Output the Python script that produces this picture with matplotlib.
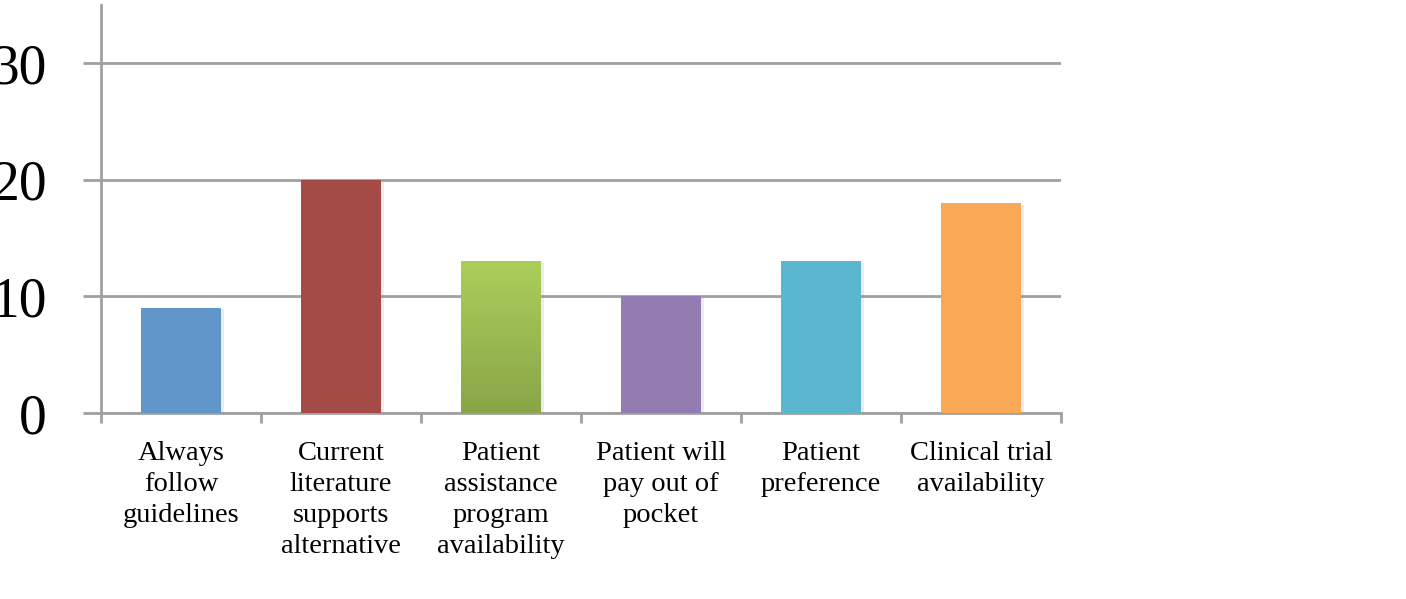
import numpy as np
import matplotlib
matplotlib.use("Agg")
import matplotlib.pyplot as plt
import matplotlib.patheffects as pe

# reasons for deviating from guidelines
categories = ["Always\nfollow\nguidelines",
              "Current\nliterature\nsupports\nalternative",
              "Patient\nassistance\nprogram\navailability",
              "Patient will\npay out of\npocket",
              "Patient\npreference",
              "Clinical trial\navailability"]
counts = [9, 20, 13, 10, 13, 18]
bar_colors = ["#6096C9", "#A54B45", "#9BBB51", "#937CB2", "#5BB6D0", "#F9A855"]
yticks = [0, 10, 20, 30]

plt.rcParams["font.family"] = ["Liberation Serif", "DejaVu Serif"]

fig = plt.figure(figsize=(14.06, 5.99), dpi=100)
ax = fig.add_axes([101 / 1406, (599 - 413) / 599, 960 / 1406, 408 / 599])

x = np.arange(len(counts))
shadow = [pe.SimplePatchShadow(offset=(2, -1), shadow_rgbFace="#999999", alpha=0.18), pe.Normal()]
bars = ax.bar(x, counts, width=0.5, color=bar_colors, zorder=3, path_effects=shadow)

# vertical gradient on the green bar
green = bars[2]
grad = np.linspace(0, 1, 256).reshape(-1, 1)
cmap = matplotlib.colors.LinearSegmentedColormap.from_list("g", ["#8AA548", "#ABCE5A"])
bx, by = green.get_x(), green.get_y()
img = ax.imshow(grad, cmap=cmap, origin="lower", aspect="auto", zorder=4,
                extent=[bx, bx + green.get_width(), by, by + green.get_height()])
img.set_clip_path(green)

ax.set_xlim(-0.5, len(counts) - 0.5)
ax.set_ylim(0, 35)
ax.set_aspect("auto")

ax.set_yticks(yticks)
ax.set_yticklabels([str(v) for v in yticks], fontsize=40)
ax.tick_params(axis="y", length=13, width=2, color="#A0A0A0", pad=26)

ax.set_xticks(np.arange(len(counts) + 1) - 0.5, minor=False)
ax.set_xticklabels([])
ax.set_xticks(x, minor=True)
ax.set_xticklabels(categories, minor=True, fontsize=20.5, linespacing=1.32, va="top")
ax.tick_params(axis="x", which="major", length=7, width=2, color="#A0A0A0")
ax.tick_params(axis="x", which="minor", length=0, pad=20)

ax.yaxis.grid(True, color="#A0A0A0", linewidth=2, zorder=0)
ax.set_axisbelow(True)

for side in ["top", "right"]:
    ax.spines[side].set_visible(False)
for side in ["left", "bottom"]:
    ax.spines[side].set_color("#A0A0A0")
    ax.spines[side].set_linewidth(2)

fig.savefig("out.png", dpi=100)
